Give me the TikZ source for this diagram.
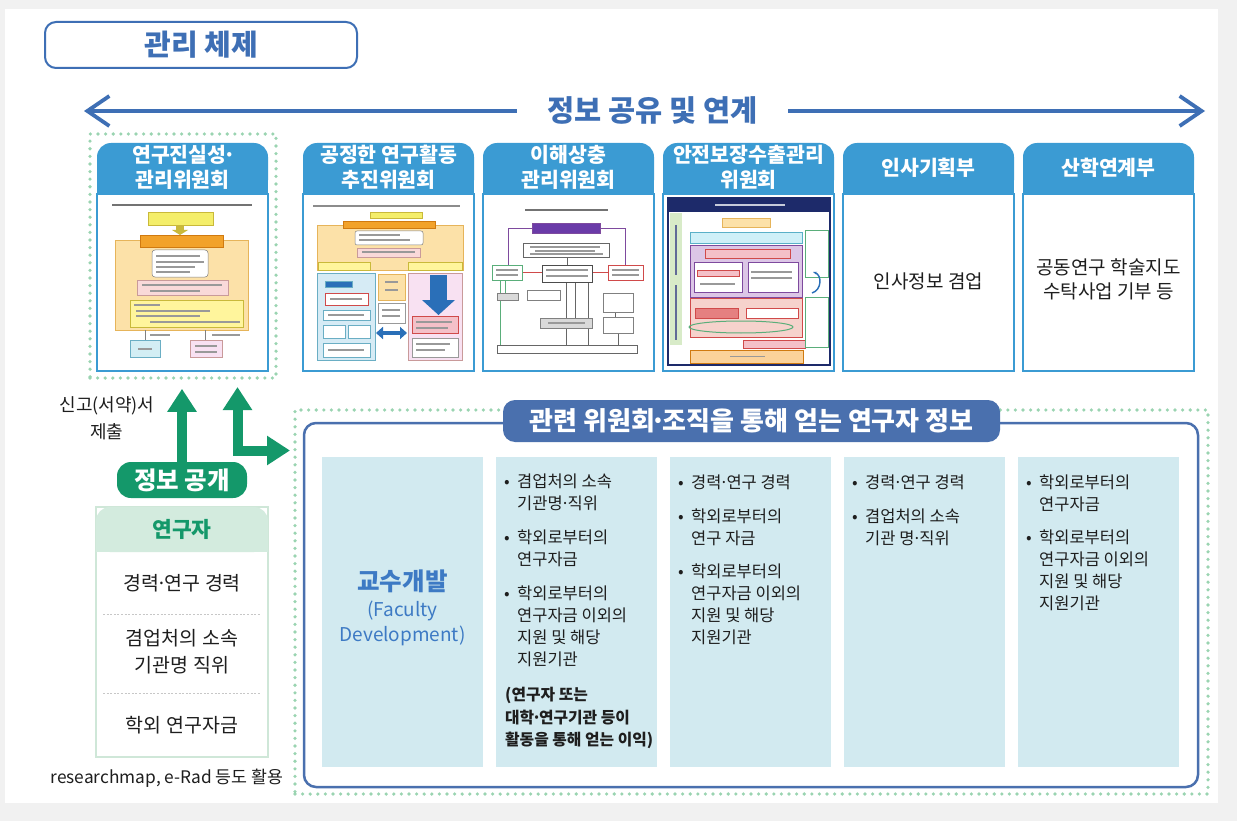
\documentclass[tikz,border=0pt]{standalone}
\usepackage{fontspec}
\setmainfont{Noto Sans CJK KR}
\usetikzlibrary{arrows.meta}
\definecolor{bgGray}{HTML}{F1F1F1}
\definecolor{titleBlue}{HTML}{3E6FB5}
\definecolor{hdrBlue}{HTML}{3B9BD3}
\definecolor{dotGreen}{HTML}{9AD4B1}
\definecolor{pubGreen}{HTML}{14986A}
\definecolor{resHdr}{HTML}{D3EBDE}
\definecolor{resLine}{HTML}{CFE7D8}
\definecolor{navyBadge}{HTML}{4A70AE}
\definecolor{colFill}{HTML}{D2EAF0}
\definecolor{fdBlue}{HTML}{3D7AC4}
\definecolor{txt}{HTML}{1E1E1E}
% thumbnail colours
\definecolor{thYellow}{HTML}{F4EE6A}
\definecolor{thYellowD}{HTML}{C9B93A}
\definecolor{thYellowL}{HTML}{FFF59C}
\definecolor{thPeach}{HTML}{FCE1A8}
\definecolor{thPeachD}{HTML}{E6B45A}
\definecolor{thOrange}{HTML}{F2A22A}
\definecolor{thOrangeD}{HTML}{D07A10}
\definecolor{thOrangeL}{HTML}{FBD29A}
\definecolor{thPink}{HTML}{F9D9D9}
\definecolor{thPinkD}{HTML}{C99A9A}
\definecolor{thPinkL}{HTML}{F8E1F2}
\definecolor{thPinkM}{HTML}{F4C0C8}
\definecolor{thBlue}{HTML}{D3EEF4}
\definecolor{thBlueD}{HTML}{6AAEC4}
\definecolor{thBlueL}{HTML}{D6EBF5}
\definecolor{thBlueA}{HTML}{2A6FB8}
\definecolor{thRed}{HTML}{D04A4A}
\definecolor{thRedM}{HTML}{E58080}
\definecolor{thPurple}{HTML}{6A3BA8}
\definecolor{thPurpleD}{HTML}{7E4A9E}
\definecolor{thGreen}{HTML}{5AAE7A}
\definecolor{thGreenL}{HTML}{D8EBC8}
\definecolor{thNavy}{HTML}{1D2A6A}
\definecolor{thCyan}{HTML}{CFF0F8}
\definecolor{thCyanD}{HTML}{5AB0C8}
\definecolor{thLav}{HTML}{DCC6E6}
\definecolor{thSalmon}{HTML}{F6D2CC}
\newcommand\fsz[2]{\fontsize{#1}{#2}\selectfont}
\newcommand\bul{\makebox[13pt][l]{•}}
\newcommand\ind{\hspace*{13pt}}
\newcommand\md{\makebox[0.3em][c]{·}}
\newcommand\bx[6]{\filldraw[fill=#5,draw=#6,line width=0.6pt] (#1,#2) rectangle (#3,#4);}
\newcommand\tln[3]{\draw[txtl] (#1,#3) -- (#2,#3);}
\tikzset{
  txtl/.style={line width=1.1pt, black!40},
  dotbox/.style={draw=dotGreen, line width=3.6pt, dash pattern=on 0pt off 7.6pt, line cap=round, inner sep=0pt},
  titlebox/.style={draw=titleBlue, line width=2pt, rounded corners=11pt, minimum width=312, minimum height=46, text=titleBlue, font=\bfseries\fsz{29}{32}},
  sharearrow/.style={draw=titleBlue, line width=3.8pt, line cap=round, {Straight Barb[length=22pt,width=30pt]}-{Straight Barb[length=22pt,width=30pt]}},
  sharetext/.style={fill=white, text=titleBlue, font=\bfseries\fsz{29.5}{32}, inner xsep=30pt},
  cardbody/.style={draw=hdrBlue, line width=1.3pt, fill=white, minimum width=171, minimum height=177, inner sep=0pt},
  hdrtext/.style={anchor=base, text=white, font=\bfseries\fsz{20.5}{25}, align=center, inner sep=0pt},
  bodytext/.style={anchor=base, text=txt, font=\fsz{19}{24}, align=center, inner sep=0pt},
  plaintext/.style={anchor=base, text=txt, align=center, inner sep=0pt},
  garrow/.style={draw=pubGreen, line width=10pt, -{Triangle[length=23pt,width=28pt]}},
  garrowtwo/.style={draw=pubGreen, line width=10pt, line join=miter, {Triangle[length=23pt,width=28pt]}-{Triangle[length=23pt,width=28pt]}},
  pubbadge/.style={fill=pubGreen, rounded corners=14pt, minimum width=130, minimum height=36, text=white, font=\bfseries\fsz{24.5}{28}, inner sep=0pt},
  resbody/.style={draw=resLine, line width=1.5pt, fill=white, minimum width=172, minimum height=250, inner sep=0pt},
  sepline/.style={draw=black!22, line width=0.8pt, dash pattern=on 2pt off 1.6pt},
  infobox/.style={draw=navyBadge, line width=2.5pt, rounded corners=12pt, minimum width=894, minimum height=364, inner sep=0pt},
  infobadge/.style={fill=navyBadge, rounded corners=12pt, minimum width=497, minimum height=42, text=white, font=\bfseries\fsz{26}{28}, inner sep=0pt},
  colbox/.style={fill=colFill, minimum width=161, minimum height=310, inner sep=0pt},
  item/.style={anchor=base west, align=left, inner sep=0pt, font=\fsz{16.5}{21.8}, text=txt},
  fdtext/.style={anchor=base, inner sep=0pt, text=fdBlue}
}
\begin{document}
\begin{tikzpicture}[x=1pt,y=-1pt]
\useasboundingbox (0,0) rectangle (1237,821);
\fill[bgGray] (0,0) rectangle (1237,821);
\fill[white] (5,9) rectangle (1218,803);

% ---------- title ----------
\node[titlebox] (title) at (201,45) {관리 체제};

% ---------- sharing arrow ----------
\coordinate (shL) at (84,111);
\coordinate (shR) at (1205,111);
\draw[sharearrow] (shL) -- (shR);
\node[sharetext] (share) at (652.5,110) {정보 공유 및 연계};

% ---------- dotted group around first card ----------
\node[dotbox, minimum width=186, minimum height=244] (grp1) at (183,256) {};

% ---------- cards ----------
\foreach \x/\nm in {97/cA,303/cB,483/cC,663/cD,843/cE,1023/cF}{
  \node[cardbody] (\nm) at ({\x+85.5},282.5) {};
  \fill[hdrBlue, rounded corners=14pt] (\x,143) rectangle ({\x+171},194);
  \fill[hdrBlue] (\x,170) rectangle ({\x+171},194);
}
\node[hdrtext] (cAh) at (182.5,187.3) {연구진실성\md\\관리위원회};
\node[hdrtext] (cBh) at (388.5,187.3) {공정한 연구활동\\추진위원회};
\node[hdrtext] (cCh) at (568.5,187.3) {이해상충\\관리위원회};
\node[hdrtext] (cDh) at (748.5,187.3) {안전보장수출관리\\위원회};
\node[hdrtext] (cEh) at (928.5,175.3) {인사기획부};
\node[hdrtext] (cFh) at (1108.5,175.3) {산학연계부};
\node[bodytext] (cEt) at (928.5,288.8) {인사정보 겸업};
\node[bodytext] (cFt) at (1108.5,298.8) {공동연구 학술지도\\수탁사업 기부 등};

% ---- thumbnail 1 ----
\draw[line width=1.3pt, black!55] (112,205) -- (252,205);
\bx{148}{212}{213}{225}{thYellow}{thYellowD}
\fill[thYellowD] (176,226) rectangle (184,230);
\fill[thYellowD] (172,230) -- (188,230) -- (180,235) -- cycle;
\bx{115}{240}{248}{330}{thPeach}{thPeachD}
\bx{140}{235}{223}{247}{thOrange}{thOrangeD}
\filldraw[fill=white,draw=black!50,rounded corners=3pt,line width=0.5pt] (152,250) rectangle (208,277);
\tln{156}{200}{256}\tln{156}{204}{262}\tln{156}{195}{267}\tln{156}{190}{272}
\bx{137}{280}{228}{295}{thPink}{thPinkD}
\tln{142}{222}{285}\tln{150}{200}{291}
\bx{130}{300}{243}{327}{thYellowL}{thYellowD}
\tln{134}{160}{305}\tln{136}{210}{311}\tln{136}{200}{316}\tln{150}{240}{322}
\draw[black!50, line width=0.6pt] (145,330) -- (145,340) (205,330) -- (205,340);
\tln{150}{170}{335}\tln{212}{240}{335}
\bx{130}{340}{160}{357}{thBlue}{thBlueD}
\tln{138}{152}{349}
\bx{190}{340}{222}{357}{thPinkL}{thPinkD}
\tln{195}{217}{346}\tln{195}{217}{352}

% ---- thumbnail 2 ----
\draw[line width=1.3pt, black!45] (313,206) -- (460,206);
\bx{370}{212}{422}{218}{thYellow}{thYellowD}
\bx{317}{225}{463}{270}{thPeach}{thPeachD}
\bx{343}{221}{435}{228}{thOrange}{thOrangeD}
\filldraw[fill=white,draw=black!50,rounded corners=2pt,line width=0.5pt] (355,231) rectangle (423,245);
\tln{359}{400}{235}\tln{359}{410}{240}
\bx{357}{248}{420}{257}{thPink}{thPinkD}
\tln{362}{415}{252}
\bx{318}{262}{370}{270}{thYellowL}{thYellowD}
\bx{408}{262}{462}{270}{thYellowL}{thYellowD}
\bx{317}{273}{375}{360}{thBlueL}{thBlueD}
\bx{408}{273}{462}{360}{thPinkL}{thPinkD}
\bx{378}{274}{405}{300}{thPeach}{thPeachD}
\tln{385}{398}{282}\tln{385}{398}{290}
\bx{378}{303}{405}{323}{white}{black!40}
\tln{382}{400}{310}\tln{382}{400}{316}
\draw[thBlueA, line width=4pt, {Triangle[length=7pt,width=12pt]}-{Triangle[length=7pt,width=12pt]}] (376,333) -- (407,333);
\fill[thBlueA] (430,275) rectangle (447,300);
\fill[thBlueA] (422,300) -- (455,300) -- (438.5,315) -- cycle;
\bx{412}{316}{458}{333}{thPinkM}{thRed}
\tln{416}{452}{322}\tln{416}{448}{328}
\bx{412}{338}{458}{357}{white}{black!40}
\tln{416}{450}{344}\tln{416}{445}{350}
\bx{325}{281}{352}{287}{thBlueA}{thBlueD}
\bx{325}{293}{368}{305}{white}{thRed}
\tln{330}{362}{299}
\bx{323}{310}{370}{320}{white}{thBlueD}
\tln{328}{364}{315}
\bx{323}{325}{345}{338}{white}{thBlueD}
\bx{348}{325}{370}{338}{white}{thBlueD}
\bx{323}{343}{370}{357}{white}{thBlueD}
\tln{328}{364}{350}

% ---- thumbnail 3 ----
\draw[line width=1.3pt, black!55] (525,210) -- (608,210);
\draw[thPurpleD, line width=0.9pt] (532,228) -- (508,228) -- (508,265) (600,228) -- (625,228) -- (625,265);
\bx{532}{223}{600}{233}{thPurple}{thPurpleD}
\bx{523}{243}{609}{257}{white}{black!60}
\tln{530}{600}{247}\tln{535}{595}{251}\tln{530}{603}{254}
\draw[black!60, line width=0.6pt] (567,257) -- (567,265) (566,282) -- (566,345) (575,282) -- (575,318) (588,282) -- (588,345) (615,312) -- (615,317) (618,333) -- (618,345);
\draw[thGreen, line width=0.9pt] (500,280) -- (500,345) (505,280) -- (505,293);
\draw[thRed, line width=0.6pt] (522,272) -- (542,272) (592,272) -- (608,272);
\bx{492}{265}{522}{280}{white}{thGreen}
\tln{496}{518}{270}\tln{496}{518}{275}
\bx{542}{265}{592}{282}{white}{black!70}
\tln{546}{588}{270}\tln{546}{588}{276}
\bx{608}{265}{643}{280}{white}{thRed}
\tln{612}{639}{270}\tln{612}{639}{275}
\bx{527}{290}{560}{300}{white}{black!50}
\bx{603}{293}{633}{312}{white}{black!50}
\bx{497}{293}{518}{300}{black!15}{black!50}
\bx{540}{318}{592}{328}{black!15}{black!50}
\tln{548}{585}{323}
\bx{603}{317}{633}{333}{white}{black!50}
\bx{497}{345}{637}{353}{white}{black!60}

% ---- thumbnail 4 ----
\filldraw[fill=white, draw=thNavy, line width=1.5pt] (668,198) rectangle (830,365);
\fill[thNavy] (668,198) rectangle (830,212);
\draw[line width=1.5pt, white!75!thNavy] (715,205) -- (785,205);
\fill[thGreenL] (670,213) rectangle (682,345);
\draw[line width=1.5pt, thNavy!70] (676,225) -- (676,275) (676,285) -- (676,340);
\bx{722}{218}{770}{227}{thPeach}{thPeachD}
\bx{690}{232}{802}{243}{thCyan}{thCyanD}
\bx{690}{245}{802}{297}{thLav}{thPurpleD}
\bx{705}{249}{790}{258}{thPinkM}{thRed}
\bx{694}{262}{742}{292}{white}{thPurpleD}
\bx{748}{262}{798}{292}{white}{thPurpleD}
\bx{697}{270}{739}{276}{thPinkM}{thRed}
\tln{751}{792}{272}\tln{751}{792}{278}\tln{700}{735}{284}
\bx{805}{230}{828}{277}{white}{thGreen}
\bx{690}{298}{802}{337}{thSalmon}{thRed}
\bx{695}{308}{738}{318}{thRedM}{thRed}
\bx{746}{308}{798}{318}{white}{thRed}
\draw[thGreen, line width=1pt] (741,327) ellipse [x radius=52, y radius=6];
\bx{743}{340}{805}{348}{thPinkM}{thRed}
\bx{690}{350}{803}{363}{thOrangeL}{thOrangeD}
\tln{730}{765}{356.5}
\bx{805}{297}{828}{347}{white}{thGreen}
\draw[thBlueA, line width=1.4pt, -{Stealth[length=4pt]}] (812,293) .. controls (822,290) and (822,275) .. (813,272);

% ---------- researcher side ----------
\node[plaintext, font=\fsz{18}{27}] (report) at (107,438.5) {신고(서약)서\\제출};
\node[pubbadge] (pub) at (182,480) {정보 공개};
\draw[garrow, shorten >=9pt] (pub.north) -- (pub.north |- grp1.south);
\coordinate (a2s) at (237.5,378);
\coordinate (a2e) at (295,450.5);
\draw[garrowtwo, shorten <=9pt, shorten >=5pt] (a2s) |- (a2e);

\node[resbody] (res) at (182,632) {};
\fill[resHdr, rounded corners=14pt] (96,507) rectangle (268,552);
\fill[resHdr] (96,530) rectangle (268,552);
\node[plaintext, text=pubGreen, font=\bfseries\fsz{21.5}{24}] (resh) at (182,537.8) {연구자};
\node[plaintext, font=\fsz{19.5}{27}] (r1) at (182,590) {경력\md 연구 경력};
\draw[sepline] (103,614) -- (261,614);
\node[plaintext, font=\fsz{19.5}{27}] (r2) at (182,672) {겸업처의 소속\\기관명 직위};
\draw[sepline] (103,693) -- (261,693);
\node[plaintext, font=\fsz{19.5}{27}] (r3) at (182,732) {학외 연구자금};
\node[plaintext, font=\fsz{17.3}{20}] (rmap) at (167,783) {researchmap, e-Rad 등도 활용};

% ---------- related info ----------
\node[dotbox, minimum width=913, minimum height=384] (grp2) at (751.5,602) {};
\node[infobox] (info) at (751,605) {};
\node[infobadge] (infot) at (751.5,421) {관련 위원회\md 조직을 통해 얻는 연구자 정보};

\node[colbox] (col1) at (402.5,612) {};
\node[colbox] (col2) at (576.5,612) {};
\node[colbox] (col3) at (750.5,612) {};
\node[colbox] (col4) at (924.5,612) {};
\node[colbox] (col5) at (1098.5,612) {};

\node[fdtext, font=\bfseries\fsz{24.5}{26}] (fd1) at (402.5,590.8) {교수개발};
\node[fdtext, font=\fsz{19}{24}] (fd2) at (402.5,616.5) {(Faculty};
\node[fdtext, font=\fsz{19}{24}] (fd3) at (402.5,641.5) {Development)};

\node[item] (c2a) at (504,509.7) {\bul 겸업처의 소속\\\ind 기관명\md 직위};
\node[item] (c2b) at (504,565.7) {\bul 학외로부터의\\\ind 연구자금};
\node[item] (c2c) at (504,665.3) {\bul 학외로부터의\\\ind 연구자금 이외의\\\ind 지원 및 해당\\\ind 지원기관};
\node[item, font=\bfseries\fsz{15.8}{22.5}] (c2d) at (505,745.7) {(연구자 또는\\대학\md 연구기관 등이\\활동을 통해 얻는 이익)};

\node[item] (c3a) at (678,488.9) {\bul 경력\md 연구 경력};
\node[item] (c3b) at (678,544.7) {\bul 학외로부터의\\\ind 연구 자금};
\node[item] (c3c) at (678,643.3) {\bul 학외로부터의\\\ind 연구자금 이외의\\\ind 지원 및 해당\\\ind 지원기관};

\node[item] (c4a) at (852,488.9) {\bul 경력\md 연구 경력};
\node[item] (c4b) at (852,544.7) {\bul 겸업처의 소속\\\ind 기관 명\md 직위};

\node[item] (c5a) at (1026,510.7) {\bul 학외로부터의\\\ind 연구자금};
\node[item] (c5b) at (1026,609.3) {\bul 학외로부터의\\\ind 연구자금 이외의\\\ind 지원 및 해당\\\ind 지원기관};
\end{tikzpicture}
\end{document}
